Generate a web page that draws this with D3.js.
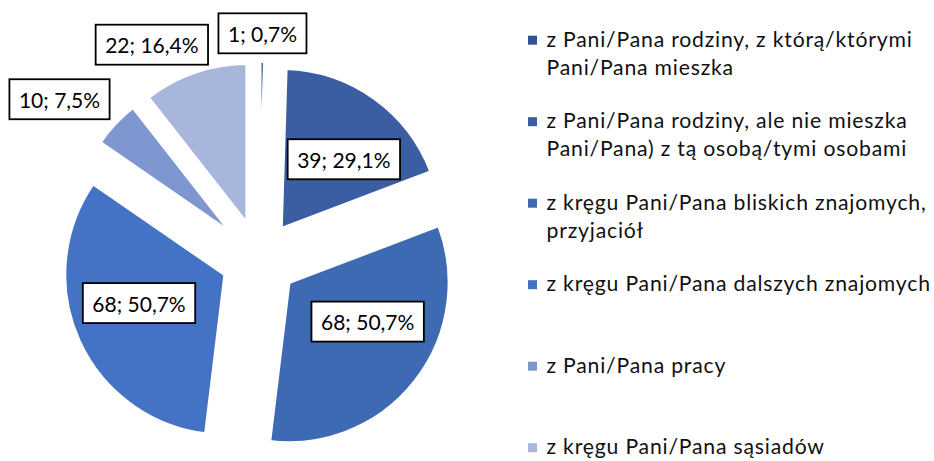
<!DOCTYPE html>
<html>
<head>
<meta charset="utf-8">
<script src="https://cdn.jsdelivr.net/npm/d3@7"></script>
<style>
  html, body { margin: 0; padding: 0; background: #fff; }
  svg { display: block; }
  text { font-family: Lato, "Open Sans", sans-serif; fill: #000; }
</style>
</head>
<body>
<svg id="chart" width="934" height="461"></svg>
<script>
// ---- data ----
const categories = [
  "z Pani/Pana rodziny, z którą/którymi Pani/Pana mieszka",
  "z Pani/Pana rodziny, ale nie mieszka Pani/Pana) z tą osobą/tymi osobami",
  "z kręgu Pani/Pana bliskich znajomych, przyjaciół",
  "z kręgu Pani/Pana dalszych znajomych",
  "z Pani/Pana pracy",
  "z kręgu Pani/Pana sąsiadów"
];
const legendLines = [
  ["z Pani/Pana rodziny, z którą/którymi", "Pani/Pana mieszka"],
  ["z Pani/Pana rodziny, ale nie mieszka", "Pani/Pana) z tą osobą/tymi osobami"],
  ["z kręgu Pani/Pana bliskich znajomych,", "przyjaciół"],
  ["z kręgu Pani/Pana dalszych znajomych"],
  ["z Pani/Pana pracy"],
  ["z kręgu Pani/Pana sąsiadów"]
];
const counts = [1, 39, 68, 68, 10, 22];
const percents = [0.7, 29.1, 50.7, 50.7, 7.5, 16.4];
const colors = ["#2f5597", "#3a5ea1", "#3e69b3", "#4472c4", "#7f97d0", "#a8b6dc"];

// ---- layout (styling / placement) ----
const cx = 259.3, cy = 259.3, R = 160.5, explode = 37.5, borderW = 3.4;
// label anchor: angle (deg, clockwise from top) and distance from pie centre
const labelPlace = [
  { a: 0.8, d: 226 },
  { a: 40.2, d: 131 },
  { a: 119.9, d: 125 },
  { a: 250.0, d: 128 },
  { a: 308.7, d: 256 },
  { a: 333.4, d: 240 }
];

const svg = d3.select("#chart");
const g = svg.append("g").attr("transform", `translate(${cx},${cy})`);

const pie = d3.pie().sort(null).value(d => d).startAngle(0).endAngle(2 * Math.PI);
const arcs = pie(counts);
const arc = d3.arc().innerRadius(0).outerRadius(R);

g.selectAll("path.slice")
  .data(arcs)
  .join("path")
  .attr("class", "slice")
  .attr("d", arc)
  .attr("fill", (d, i) => colors[i])
  .attr("stroke", "#fff")
  .attr("stroke-width", borderW)
  .attr("stroke-linejoin", "miter")
  .attr("transform", d => {
    const m = (d.startAngle + d.endAngle) / 2;
    return `translate(${explode * Math.sin(m)},${-explode * Math.cos(m)})`;
  });

// data labels
const fmt = v => v.toFixed(1).replace(".", ",");
const labels = g.selectAll("g.lbl")
  .data(arcs)
  .join("g")
  .attr("class", "lbl")
  .attr("transform", (d, i) => {
    const p = labelPlace[i];
    const a = p.a * Math.PI / 180;
    return `translate(${p.d * Math.sin(a)},${-p.d * Math.cos(a)})`;
  });

labels.each(function(d, i) {
  const sel = d3.select(this);
  const rect = sel.append("rect");
  const t = sel.append("text")
    .attr("text-anchor", "middle")
    .attr("y", 8.5)
    .style("font-size", "21px")
    .text(`${counts[i]}; ${fmt(percents[i])}%`);
  const w = t.node().getComputedTextLength() + 19;
  const h = 40;
  rect.attr("x", -w / 2).attr("y", -h / 2).attr("width", w).attr("height", h)
    .attr("fill", "#fff").attr("stroke", "#000").attr("stroke-width", 1.8);
});

// legend
const legend = svg.append("g");
const lgX = 528, lgTextX = 546.5, firstBase = 46.7, step = 81.5, lineH = 28.3;
const items = legend.selectAll("g.item")
  .data(categories)
  .join("g")
  .attr("class", "item")
  .attr("transform", (d, i) => `translate(0,${firstBase + i * step})`);
items.append("rect")
  .attr("x", lgX).attr("y", -11).attr("width", 9).attr("height", 9)
  .attr("fill", (d, i) => colors[i]);
items.append("text")
  .attr("x", lgTextX)
  .style("font-size", "21.2px")
  .style("letter-spacing", "0.8px")
  .style("fill", "#111")
  .each(function(d, i) {
    d3.select(this).selectAll("tspan")
      .data(legendLines[i])
      .join("tspan")
      .attr("x", lgTextX)
      .attr("y", (l, j) => j * lineH)
      .text(l => l);
  });
</script>
</body>
</html>
